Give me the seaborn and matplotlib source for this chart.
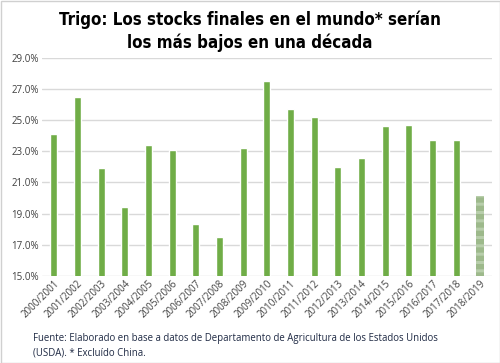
import seaborn as sns
import pandas as pd
import matplotlib.pyplot as plt
from matplotlib.patches import Rectangle
from matplotlib.ticker import FuncFormatter

campanias = ["2000/2001", "2001/2002", "2002/2003", "2003/2004", "2004/2005",
             "2005/2006", "2006/2007", "2007/2008", "2008/2009", "2009/2010",
             "2010/2011", "2011/2012", "2012/2013", "2013/2014", "2014/2015",
             "2015/2016", "2016/2017", "2017/2018", "2018/2019"]
stocks = [24.1, 26.5, 21.9, 19.4, 23.4, 23.1, 18.3, 17.5, 23.2, 27.5,
          25.7, 25.2, 22.0, 22.6, 24.6, 24.7, 23.7, 23.7, 20.1]

sns.set_style("white")
plt.rcParams['font.family'] = ['Open Sans', 'DejaVu Sans']
plt.rcParams['hatch.linewidth'] = 2.2

fig = plt.figure(figsize=(5, 3.63), dpi=100)
ax = fig.add_axes([0.084, 0.2405, 0.8996, 0.5995])

df = pd.DataFrame({"campania": campanias, "stock": stocks})
sns.barplot(data=df, x="campania", y="stock", color="#70AD47", saturation=1,
            width=0.3, ax=ax)

# la ultima campaña es proyeccion: barra rayada
last = ax.patches[-1]
last.set_facecolor("#9DB98B")
last.set_hatch("--")
last.set_edgecolor("#B8CEAB")
last.set_linewidth(0)

ax.set_ylim(15, 29)
ax.set_yticks([15, 17, 19, 21, 23, 25, 27, 29])
ax.yaxis.set_major_formatter(FuncFormatter(lambda v, p: f"{v:.1f}%"))
ax.grid(axis="y", color="#D9D9D9", linewidth=1)
ax.set_axisbelow(True)
for s in ax.spines.values():
    s.set_visible(False)
ax.set_xlabel("")
ax.set_ylabel("")
ax.tick_params(axis="y", labelsize=7, pad=2, length=0, colors="#404040")
ax.tick_params(axis="x", labelsize=7, length=0, pad=2, colors="#404040")
plt.setp(ax.get_xticklabels(), rotation=45, ha="right", rotation_mode="anchor")

fig.text(0.5, 0.915, "Trigo: Los stocks finales en el mundo* serían\nlos más bajos en una década",
         ha="center", va="center", fontsize=12.2, fontweight="heavy", color="black",
         fontstretch="condensed", family=["DejaVu Sans"], linespacing=1.3)

fig.text(0.066, 0.048, "Fuente: Elaborado en base a datos de Departamento de Agricultura de los Estados Unidos\n(USDA). * Excluído China.",
         ha="left", va="center", fontsize=6.9, color="#1F2A44", linespacing=1.45)

fig.patches.append(Rectangle((0.001, 0.001), 0.998, 0.997, transform=fig.transFigure,
                             fill=False, edgecolor="#D0D0D0", linewidth=1))

plt.savefig("out.png", dpi=100)
